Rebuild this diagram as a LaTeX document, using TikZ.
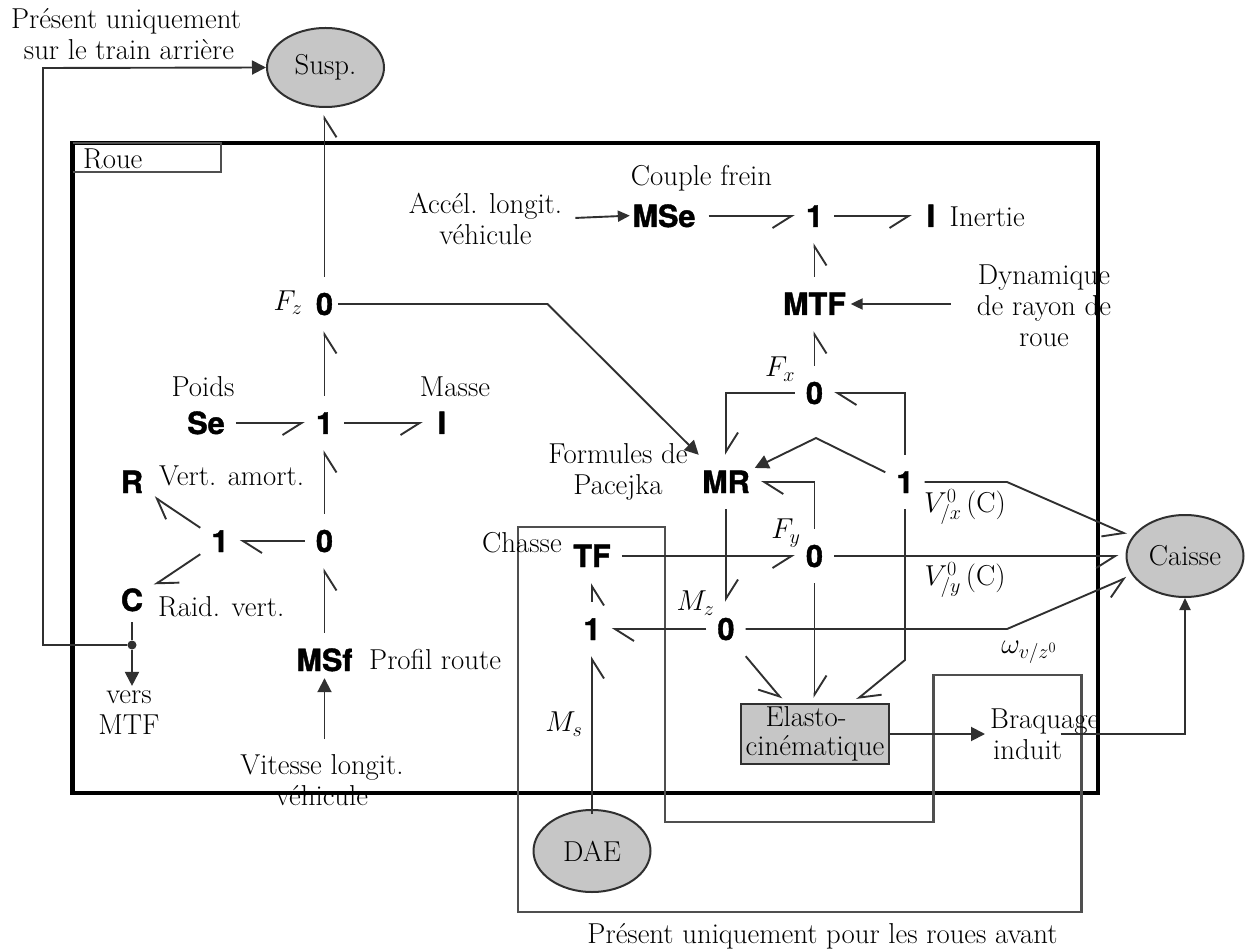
\RequirePackage{fix-cm}
\documentclass[tikz,border=0pt]{standalone}
\usepackage{fontspec}
\setsansfont{TeX Gyre Heros}[BoldFeatures={FakeBold=1.3}]
\usetikzlibrary{arrows.meta,shapes.geometric}
\definecolor{lin}{HTML}{303030}
\definecolor{gfill}{HTML}{C6C6C6}
\tikzset{
  lab/.style={inner sep=0pt,font=\fontsize{28.8}{31}\selectfont,text=black},
  bg/.style={inner xsep=11pt,inner ysep=0pt,minimum height=54pt,minimum width=38pt,text height=22pt,text depth=0pt,
     font=\sffamily\bfseries\fontsize{30.6}{31}\selectfont,text=black},
  blob/.style={ellipse,draw=lin,line width=2pt,fill=gfill,inner sep=0pt,font=\fontsize{28.8}{31}\selectfont},
  wire/.style={draw=lin,line width=1.9pt,line join=miter},
  bondr/.style={wire,-{Straight Barb[right,length=19pt,width=24pt]}},
  bondl/.style={wire,-{Straight Barb[left,length=19pt,width=24pt]}},
  sig/.style={wire,-{Triangle[length=14pt,width=14pt]}},
  sigs/.style={wire,-{Triangle[length=12pt,width=11pt]}},
  box/.style={draw=lin!85!white,line width=2.2pt},
}
\begin{document}
\begin{tikzpicture}[x=1pt,y=-1pt]
\useasboundingbox (0,0) rectangle (1245,949);
% frames
\node[blob,minimum width=117pt,minimum height=79pt] (susp) at (325.5,67.5) {Susp.};
\draw[box,line width=4.5pt,draw=black] (72.5,143) rectangle (1098,793);
\draw[box] (72.5,143) -- (221,143) -- (221,172) -- (72.5,172);
\node[lab,anchor=west] (roue) at (83,159) {Roue};
\draw[box] (518,527) -- (665,527) -- (665,822) -- (933.5,822) -- (933.5,675) -- (1081.5,675) -- (1081.5,912) -- (518,912) -- cycle;
% bond graph nodes
\node[bg] (fz) at (324.5,304) {0};
\node[bg] (oneA) at (324.5,423) {1};
\node[bg] (se) at (206,423) {Se};
\node[bg] (im) at (442,423) {I};
\node[bg] (zeroA) at (324.5,541) {0};
\node[bg] (oneB) at (220,541) {1};
\node[bg] (rr) at (132,482) {R};
\node[bg] (cc) at (132,600) {C};
\node[bg] (msf) at (324.5,660) {MSf};
\node[bg] (mse) at (664,216) {MSe};
\node[bg] (oneC) at (814.5,216) {1};
\node[bg] (ii) at (931,216) {I};
\node[bg] (mtf) at (814.5,304) {MTF};
\node[bg] (zx) at (814.5,393) {0};
\node[bg] (mr) at (726,482) {MR};
\node[bg] (onex) at (905,482) {1};
\node[bg] (tf) at (592,556) {TF};
\node[bg] (zy) at (814.5,556) {0};
\node[bg] (zz) at (726,629) {0};
\node[bg] (ones) at (592,629) {1};
\node[rectangle,draw=lin,line width=2.4pt,fill=gfill,minimum width=148pt,minimum height=60pt,inner sep=0pt,align=center,
  font=\fontsize{28.8}{29}\selectfont] (elasto) at (815,734) {Elasto-\hspace*{18pt}\\cinématique};
\node[blob,minimum width=117pt,minimum height=82pt] (caisse) at (1185,556) {Caisse};
\node[blob,minimum width=117pt,minimum height=82pt] (dae) at (592,851) {DAE};
\node[circle,fill=lin,inner sep=0pt,minimum size=9pt] (dot) at (132,645) {};
% text labels
\node[lab,align=center] (pa) at (126,34.5) {Présent uniquement\\\hspace*{6pt}sur le train arrière};
\node[lab,align=center] (accel) at (485.5,218.5) {Accél. longit.\\véhicule};
\node[lab] (couple) at (701.5,178) {Couple frein};
\node[lab,anchor=west] (inertie) at (949.5,217) {Inertie};
\node[lab,align=center] (dyn) at (1044,306) {Dynamique\\de rayon de\\roue};
\node[lab] (lfz) at (288,303) {$F_z$};
\node[lab] (poids) at (203,387) {Poids};
\node[lab] (masse) at (455,387) {Masse};
\node[lab,anchor=west] (vert) at (159,476) {Vert. amort.};
\node[lab,anchor=west] (raid) at (158,607) {Raid. vert.};
\node[lab,anchor=west] (prof) at (369,660) {Profil route};
\node[lab,align=center] (vers) at (129,713) {vers\\MTF};
\node[lab,align=center] (vit) at (322,780) {Vitesse longit.\\véhicule};
\node[lab] (lfx) at (780,369) {$F_x$};
\node[lab,align=center] (form) at (618,472) {Formules de\\Pacejka};
\node[lab] (lfy) at (786,533) {$F_y$};
\node[lab] (lvx) at (965,507) {$V^0_{/x}$\,(C)};
\node[lab] (lvy) at (965,580) {$V^0_{/y}$\,(C)};
\node[lab] (cha) at (522,543) {Chasse};
\node[lab] (lmz) at (695.5,603) {$M_z$};
\node[lab] (lms) at (564,724) {$M_s$};
\node[lab] (lom) at (1029,652) {$\omega_{v/z^0}$};
\node[lab,align=left,anchor=west] (brq) at (990,734) {Braquage\\\hspace*{3pt}induit};
\node[lab] (prav) at (822.5,936) {Présent uniquement pour les roues avant};
% bonds
\draw[bondr,shorten >=7pt] (fz.north) -- (fz.north |- susp.south);
\draw[bondr] (oneA.north) -- (fz.south);
\draw[bondr] (se.east) -- (oneA.west);
\draw[bondr] (oneA.east) -- (im.west);
\draw[bondr] (zeroA.north) -- (oneA.south);
\draw[bondl] (zeroA.west) -- (oneB.east);
\draw[bondl] (oneB) -- (rr);
\draw[bondl] (oneB) -- (cc);
\draw[bondr] (msf.north) -- (zeroA.south);
\draw[bondr,shorten <=2pt] (mse.east) -- (oneC.west);
\draw[bondr] (oneC.east) -- (ii.west);
\draw[bondr] (mtf.north) -- (oneC.south);
\draw[bondr] (zx.north) -- (mtf.south);
\draw[bondl] (zx.west) -| (mr.north);
\draw[bondl] (onex.north) |- (zx.east);
\draw[bondl] (zy.north) |- (mr.east);
\draw[bondl] (mr.south) -- (zz.north);
\draw[bondl,shorten >=5pt] (onex.south) -- (905,660) -- (elasto);
\draw[bondr,shorten >=5pt] (zz.south east) -- (elasto.134);
\draw[bondl,shorten >=5pt] (zy.south) -- (elasto.north -| zy);
\draw[bondr] (tf.east) -- (zy.west);
\draw[bondl] (zz.west) -- (ones.east);
\draw[bondr] (ones.north) -- (tf.south);
\draw[bondr,shorten <=-5pt] (dae.north) -- (ones.south);
\draw[bondr,shorten >=6pt] (onex.east) -- (1007,482) -- (caisse.160);
\draw[bondr,shorten >=7pt] (zy.east) -- (caisse.west);
\draw[bondr,shorten >=6pt] (zz.east) -- (1007,629) -- (caisse.200);
% signals
\draw[sig] (dot) -- (43,645) -- (43,68) -- (susp.west);
\draw[wire,shorten <=-5pt] (cc.south) -- (dot);
\draw[sig,shorten >=5pt] (dot) -- (dot |- vers.north);
\draw[sig,shorten <=15pt,shorten >=-9pt] (msf |- vit.north) -- (msf.south);
\draw[sigs,shorten <=13pt,shorten >=-8.5pt] (accel.east) -- (mse.west);
\draw[sigs,shorten <=26pt,shorten >=-6.5pt] (dyn.west |- mtf) -- (mtf.east);
\draw[sig,shorten <=-6pt] (fz.east) -- (547.5,304) -- (mr);
\draw[sig,shorten >=-7pt] (onex) -- (816,438) -- (mr);
\draw[sig,shorten >=5pt] (elasto.east) -- (brq.west);
\draw[sigs,shorten <=16pt] (brq.center) -| (caisse.south);
\end{tikzpicture}
\end{document}
